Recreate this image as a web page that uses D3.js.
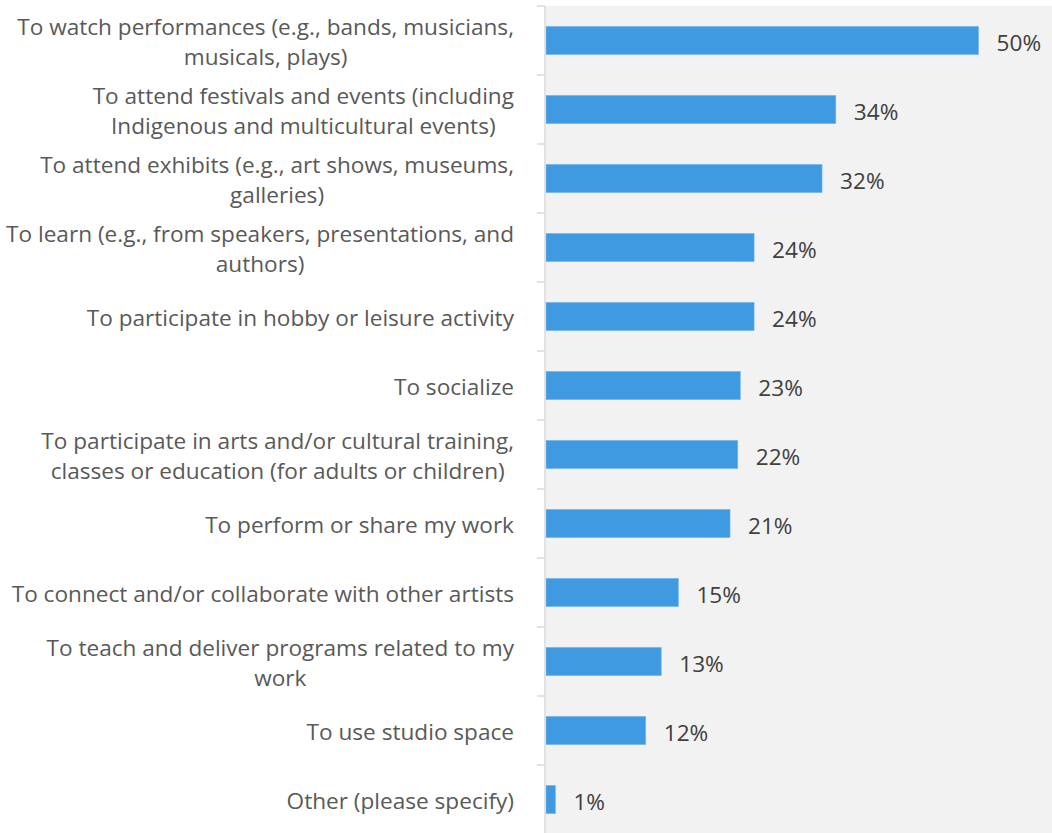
<!DOCTYPE html>
<html>
<head>
<meta charset="utf-8">
<script src="https://cdn.jsdelivr.net/npm/d3@7"></script>
<style>
  html, body { margin: 0; padding: 0; background: #ffffff; }
  svg { display: block; }
</style>
</head>
<body>
<svg id="chart" width="1052" height="833"></svg>
<script>
// ---- data ----
const categories = [
  "To watch performances (e.g., bands, musicians,|musicals, plays)",
  "To attend festivals and events (including|Indigenous and multicultural events)",
  "To attend exhibits (e.g., art shows, museums,|galleries)",
  "To learn (e.g., from speakers, presentations, and|authors)",
  "To participate in hobby or leisure activity",
  "To socialize",
  "To participate in arts and/or cultural training,|classes or education (for adults or children)",
  "To perform or share my work",
  "To connect and/or collaborate with other artists",
  "To teach and deliver programs related to my|work",
  "To use studio space",
  "Other (please specify)"
];
const values = [50.3, 33.7, 32.1, 24.2, 24.2, 22.6, 22.3, 21.4, 15.4, 13.4, 11.6, 1.1];
const valueLabels = ["50%", "34%", "32%", "24%", "24%", "23%", "22%", "21%", "15%", "13%", "12%", "1%"];

// ---- layout ----
const svg = d3.select("#chart");
const plotLeft = 546, plotRight = 1052, plotTop = 6, plotBottom = 834;
const fontFamily = "'Open Sans', 'Noto Sans', sans-serif";
const fontSize = 22.6;

const x = d3.scaleLinear().domain([0, 60]).range([plotLeft, plotLeft + 516]);
const y = d3.scaleBand().domain(d3.range(categories.length)).range([plotTop, plotBottom]).paddingInner(0.59).paddingOuter(0.295);
const yTicks = d3.scaleBand().domain(d3.range(categories.length)).range([plotTop, plotBottom]);

// plot background
svg.append("rect")
  .attr("x", plotLeft).attr("y", plotTop)
  .attr("width", plotRight - plotLeft).attr("height", plotBottom - plotTop)
  .attr("fill", "#f2f2f2");

// bars
svg.append("g").selectAll("rect").data(values).join("rect")
  .attr("x", x(0))
  .attr("y", (d, i) => y(i))
  .attr("width", d => x(d) - x(0))
  .attr("height", y.bandwidth())
  .attr("fill", "#409ae2")
  .attr("stroke", "#7db9ec")
  .attr("stroke-width", 0.6);

// value labels
svg.append("g").selectAll("text").data(values).join("text")
  .attr("x", d => x(d) + 18)
  .attr("y", (d, i) => y(i) + y.bandwidth() / 2 + 4)
  .attr("dominant-baseline", "middle")
  .attr("font-family", fontFamily)
  .attr("font-size", fontSize)
  .attr("fill", "#404040")
  .text((d, i) => valueLabels[i]);

// axis line and ticks
const axisG = svg.append("g");
axisG.append("line")
  .attr("x1", 545).attr("x2", 545)
  .attr("y1", plotTop).attr("y2", plotBottom)
  .attr("stroke", "#d9d9d9").attr("stroke-width", 1.5);
const tickPos = d3.range(categories.length + 1).map(i => i < categories.length ? yTicks(i) : plotBottom);
axisG.selectAll("line.tick").data(tickPos).join("line")
  .attr("class", "tick")
  .attr("x1", 537).attr("x2", 545)
  .attr("y1", d => d).attr("y2", d => d)
  .attr("stroke", "#d9d9d9").attr("stroke-width", 1.5);

// category labels (block right-aligned, lines centered within block)
const lineH = 30;
const labelRight = 514;
const labelG = svg.append("g");
categories.forEach((c, i) => {
  const lines = c.split("|");
  const cy = yTicks(i) + yTicks.bandwidth() / 2 + 3.5;
  const t = labelG.append("text")
    .attr("text-anchor", "middle")
    .attr("font-family", fontFamily)
    .attr("font-size", fontSize)
    .attr("fill", "#595959");
  const spans = lines.map((ln, k) => t.append("tspan")
      .attr("y", cy + (k - (lines.length - 1) / 2) * lineH)
      .attr("dominant-baseline", "middle")
      .text(ln));
  const maxW = d3.max(spans, s => s.node().getComputedTextLength());
  spans.forEach(s => s.attr("x", labelRight - maxW / 2));
});
</script>
</body>
</html>
